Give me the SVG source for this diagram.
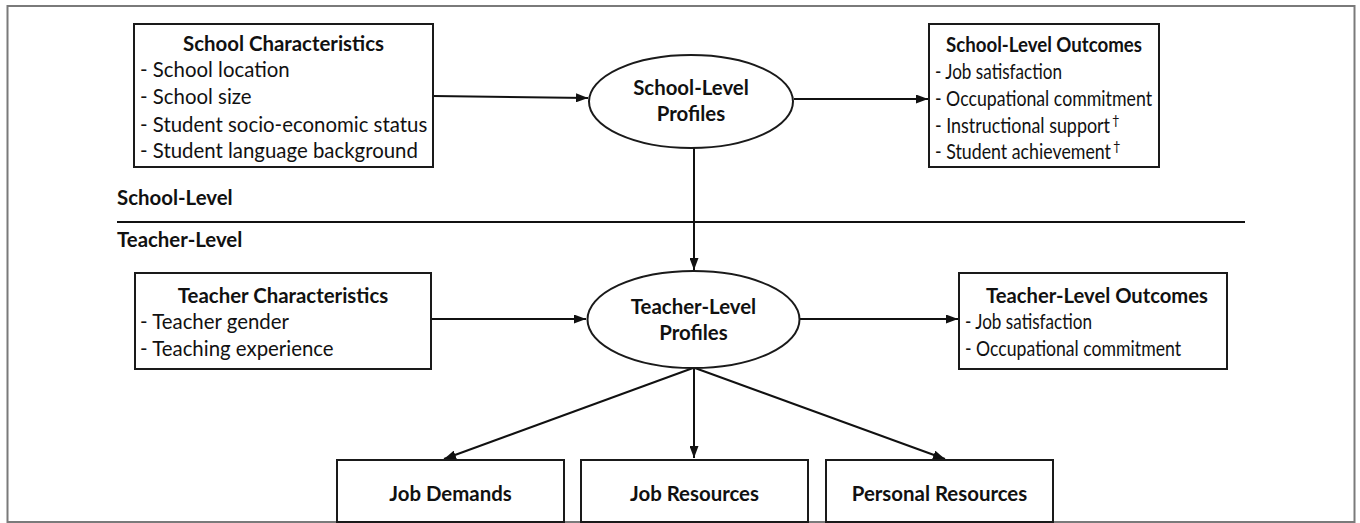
<svg xmlns="http://www.w3.org/2000/svg" width="1360" height="523" viewBox="0 0 1360 523">
<style>
.box{fill:#fff;stroke:#1a1a1a;stroke-width:2}
.ell{fill:#fff;stroke:#1a1a1a;stroke-width:2}
.frame{fill:none;stroke:#7a7a7a;stroke-width:2}
text{font-family:Lato,"Open Sans",sans-serif;fill:#111;font-size:20.4px}
.t{font-weight:bold;text-anchor:middle}
.lv{font-weight:bold}
.dg{font-size:13px;fill:#111}
.conn{stroke:#111;stroke-width:2;fill:none;marker-end:url(#ah)}
</style>
<defs>
<marker id="ah" viewBox="0 0 12 9" refX="12" refY="4.5" markerWidth="12" markerHeight="9" markerUnits="userSpaceOnUse" orient="auto" preserveAspectRatio="none">
<path d="M0,0 L12,4.5 L0,9 z" fill="#111"/>
</marker>
</defs>
<rect class="frame" x="7.5" y="6" width="1347" height="516"/>
<g id="level-labels">
<text class="lv" x="117" y="205">School-Level</text>
<line x1="117" y1="222" x2="1245" y2="222" stroke="#111" stroke-width="2"/>
<text class="lv" x="117" y="247">Teacher-Level</text>
</g>
<g id="connectors">
<path class="conn" d="M433,96 L588,98"/>
<path class="conn" d="M794,99 L928,99"/>
<path class="conn" d="M694,148 L694,270"/>
<path class="conn" d="M431,319 L586,319"/>
<path class="conn" d="M800,319 L958,319"/>
<path class="conn" d="M693,368 L444,459"/>
<path class="conn" d="M694,368 L694,458"/>
<path class="conn" d="M695,368 L945,459"/>
</g>
<g id="school-characteristics">
<rect class="box" x="134" y="24" width="299" height="143"/>
<text class="t" x="283.5" y="51">School Characteristics</text>
<text x="140" y="77">- School location</text>
<text x="140" y="104">- School size</text>
<text x="140" y="132">- Student socio-economic status</text>
<text x="140" y="158">- Student language background</text>
</g>
<g id="school-level-profiles">
<ellipse class="ell" cx="691" cy="101.5" rx="102" ry="46.5"/>
<text class="t" x="691" y="95">School-Level</text>
<text class="t" x="691" y="121">Profiles</text>
</g>
<g id="school-level-outcomes">
<rect class="box" x="929" y="24" width="230" height="143"/>
<text class="t" x="1044" y="52" textLength="196" lengthAdjust="spacingAndGlyphs">School-Level Outcomes</text>
<text x="935" y="79" textLength="127" lengthAdjust="spacingAndGlyphs">- Job satisfaction</text>
<text x="935" y="106" textLength="217" lengthAdjust="spacingAndGlyphs">- Occupational commitment</text>
<text x="935" y="133"><tspan textLength="175" lengthAdjust="spacingAndGlyphs">- Instructional support</tspan><tspan class="dg" dx="2" dy="-8">†</tspan></text>
<text x="935" y="159"><tspan textLength="176" lengthAdjust="spacingAndGlyphs">- Student achievement</tspan><tspan class="dg" dx="2" dy="-8">†</tspan></text>
</g>
<g id="teacher-characteristics">
<rect class="box" x="135" y="273" width="296" height="96"/>
<text class="t" x="283" y="303">Teacher Characteristics</text>
<text x="140" y="329">- Teacher gender</text>
<text x="140" y="356">- Teaching experience</text>
</g>
<g id="teacher-level-profiles">
<ellipse class="ell" cx="693.5" cy="319.5" rx="106" ry="48.5"/>
<text class="t" x="693.5" y="314">Teacher-Level</text>
<text class="t" x="693.5" y="340">Profiles</text>
</g>
<g id="teacher-level-outcomes">
<rect class="box" x="959" y="273" width="268" height="96"/>
<text class="t" x="1097" y="303" textLength="222" lengthAdjust="spacingAndGlyphs">Teacher-Level Outcomes</text>
<text x="965" y="329" textLength="127" lengthAdjust="spacingAndGlyphs">- Job satisfaction</text>
<text x="965" y="356" textLength="216" lengthAdjust="spacingAndGlyphs">- Occupational commitment</text>
</g>
<g id="job-demands">
<rect class="box" x="337" y="460" width="227" height="62"/>
<text class="t" x="450.5" y="501">Job Demands</text>
</g>
<g id="job-resources">
<rect class="box" x="581" y="460" width="227" height="62"/>
<text class="t" x="694.5" y="501">Job Resources</text>
</g>
<g id="personal-resources">
<rect class="box" x="826" y="460" width="227" height="62"/>
<text class="t" x="939.5" y="501">Personal Resources</text>
</g>
</svg>
